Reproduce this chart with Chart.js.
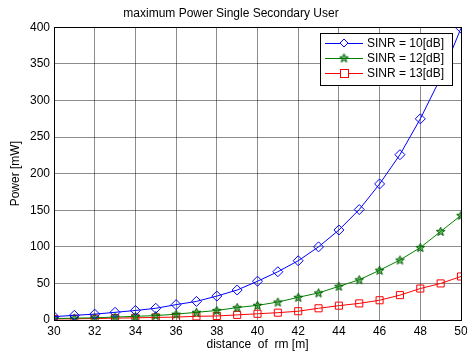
<!DOCTYPE html>
<html>
<head>
<meta charset="utf-8">
<script src="https://cdn.jsdelivr.net/npm/chart.js@4"></script>
<style>
  html, body { margin: 0; padding: 0; background: #fff; }
  #wrap { width: 467px; height: 352px; }
</style>
</head>
<body>
<div id="wrap"><canvas id="myChart" width="467" height="352"></canvas></div>
<script>
// distance of rm [m]
var distance = [30, 31, 32, 33, 34, 35, 36, 37, 38, 39, 40, 41, 42, 43, 44, 45, 46, 47, 48, 49, 50];
// power [mW]
var sinr10 = [4.6, 6.4, 8, 10.5, 13, 16, 21, 25.4, 32.7, 41, 53, 66, 81, 100, 123, 151, 186, 226, 275, 331, 399];
var sinr12 = [2, 2.5, 3, 4, 5, 6, 8, 10.5, 13, 17, 20, 24.5, 31, 37, 46, 55, 68, 82, 99, 121, 143];
var sinr13 = [1.4, 1.7, 2, 2.5, 3, 3.5, 4, 5, 5.5, 7, 8.5, 10, 12, 16, 19.6, 22.7, 27, 34, 43, 50, 59.5];
var seriesLabels = ['SINR = 10[dB]', 'SINR = 12[dB]', 'SINR = 13[dB]'];
var xTicks = [30, 32, 34, 36, 38, 40, 42, 44, 46, 48, 50];
var yTicks = [0, 50, 100, 150, 200, 250, 300, 350, 400];

var FONT = 'Arial, "Liberation Sans", Helvetica, sans-serif';

// small pentagram marker for the green line
function makeStar(color) {
    var c = document.createElement('canvas');
    c.width = 11; c.height = 11;
    var g = c.getContext('2d');
    g.beginPath();
    for (var i = 0; i < 10; i++) {
        var r = i % 2 === 0 ? 4.6 : 2;
        var a = -Math.PI / 2 + i * Math.PI / 5;
        var px = 5.5 + r * Math.cos(a), py = 5.8 + r * Math.sin(a);
        if (i === 0) g.moveTo(px, py); else g.lineTo(px, py);
    }
    g.closePath();
    g.fillStyle = 'rgba(0,128,0,0.55)';
    g.fill();
    g.strokeStyle = color;
    g.lineWidth = 1;
    g.stroke();
    return c;
}
var starImg = makeStar('#006000');

// box around the plot + legend inside the axes (matlab style)
var boxLegend = {
    id: 'boxLegend',
    afterDraw: function (chart) {
        var ctx = chart.ctx, a = chart.chartArea;
        ctx.save();
        ctx.strokeStyle = '#000';
        ctx.lineWidth = 1;
        ctx.strokeRect(Math.round(a.left) + 0.5, Math.round(a.top) + 0.5,
            Math.round(a.right - a.left), Math.round(a.bottom - a.top));

        var lx = 320, ly = 33, lw = 132, lh = 52;
        ctx.fillStyle = '#fff';
        ctx.fillRect(lx, ly, lw, lh);
        ctx.strokeStyle = '#000';
        ctx.strokeRect(lx + 0.5, ly + 0.5, lw, lh);
        ctx.font = '12px ' + FONT;
        ctx.textBaseline = 'middle';
        chart.data.datasets.forEach(function (ds, i) {
            var yy = ly + 10 + i * 15;
            ctx.strokeStyle = ds.borderColor;
            ctx.beginPath();
            ctx.moveTo(lx + 5, yy + 0.5);
            ctx.lineTo(lx + 43, yy + 0.5);
            ctx.stroke();
            var cx = lx + 24;
            if (i === 0) {
                ctx.beginPath();
                ctx.moveTo(cx, yy - 4); ctx.lineTo(cx + 4, yy); ctx.lineTo(cx, yy + 4); ctx.lineTo(cx - 4, yy);
                ctx.closePath();
                ctx.fillStyle = '#fff'; ctx.fill(); ctx.stroke();
            } else if (i === 1) {
                ctx.drawImage(starImg, cx - 5.5, yy - 5.5);
            } else {
                ctx.fillStyle = '#fff';
                ctx.fillRect(cx - 4, yy - 4, 8, 8);
                ctx.strokeRect(cx - 3.5, yy - 3.5, 8, 8);
            }
            ctx.fillStyle = '#000';
            ctx.fillText(ds.label, lx + 47, yy + 1);
        });
        ctx.restore();
    }
};

var ctx = document.getElementById('myChart');
var myChart = new Chart(ctx, {
    type: 'line',
    data: {
        labels: distance,
        datasets: [{
            label: seriesLabels[0],
            data: sinr10,
            borderColor: '#0000ff',
            backgroundColor: 'rgba(255,255,255,0)',
            pointStyle: 'rectRot',
            pointRadius: 5,
            pointBorderWidth: 1,
            borderWidth: 1,
        }, {
            label: seriesLabels[1],
            data: sinr12,
            borderColor: '#008000',
            backgroundColor: 'rgba(255,255,255,0)',
            pointStyle: starImg,
            pointRadius: 5,
            borderWidth: 1,
        }, {
            label: seriesLabels[2],
            data: sinr13,
            borderColor: '#ff0000',
            backgroundColor: 'rgba(255,255,255,0)',
            pointStyle: 'rect',
            pointRadius: 5,
            pointBorderWidth: 1,
            borderWidth: 1,
        }],
    },
    options: {
        responsive: false,
        animation: false,
        layout: {
            padding: { left: 0, right: 5, top: 0, bottom: 0 },
        },
        plugins: {
            legend: { display: false },
            tooltip: { enabled: false },
            title: {
                display: true,
                text: 'maximum Power Single Secondary User',
                color: '#000',
                font: { family: FONT, size: 12, weight: 'normal' },
                padding: { top: 6, bottom: 7 },
            },
        },
        scales: {
            x: {
                type: 'linear',
                min: 30,
                max: 50,
                afterBuildTicks: function (scale) {
                    scale.ticks = xTicks.map(function (v) { return { value: v }; });
                },
                afterFit: function (scale) {
                    scale.height = 32;
                    scale.paddingRight = 5;
                },
                grid: { color: 'rgba(0,0,0,0.45)', drawTicks: false },
                border: { color: '#000' },
                ticks: {
                    color: '#000',
                    padding: 4,
                    maxRotation: 0,
                    font: { family: FONT, size: 12 },
                },
                title: {
                    display: true,
                    text: 'distance  of  rm [m]',
                    color: '#000',
                    font: { family: FONT, size: 12 },
                    padding: { top: 0, bottom: 0 },
                },
            },
            y: {
                min: 0,
                max: 400,
                afterBuildTicks: function (scale) {
                    scale.ticks = yTicks.map(function (v) { return { value: v }; });
                },
                afterFit: function (scale) { scale.width = 54; },
                grid: { color: 'rgba(0,0,0,0.45)', drawTicks: false },
                border: { color: '#000' },
                ticks: {
                    color: '#000',
                    padding: 4,
                    font: { family: FONT, size: 12 },
                },
                title: {
                    display: true,
                    text: 'Power [mW]',
                    color: '#000',
                    font: { family: FONT, size: 12 },
                    padding: { top: 8, bottom: 0 },
                },
            },
        },
    },
    plugins: [boxLegend],
});
</script>
</body>
</html>
